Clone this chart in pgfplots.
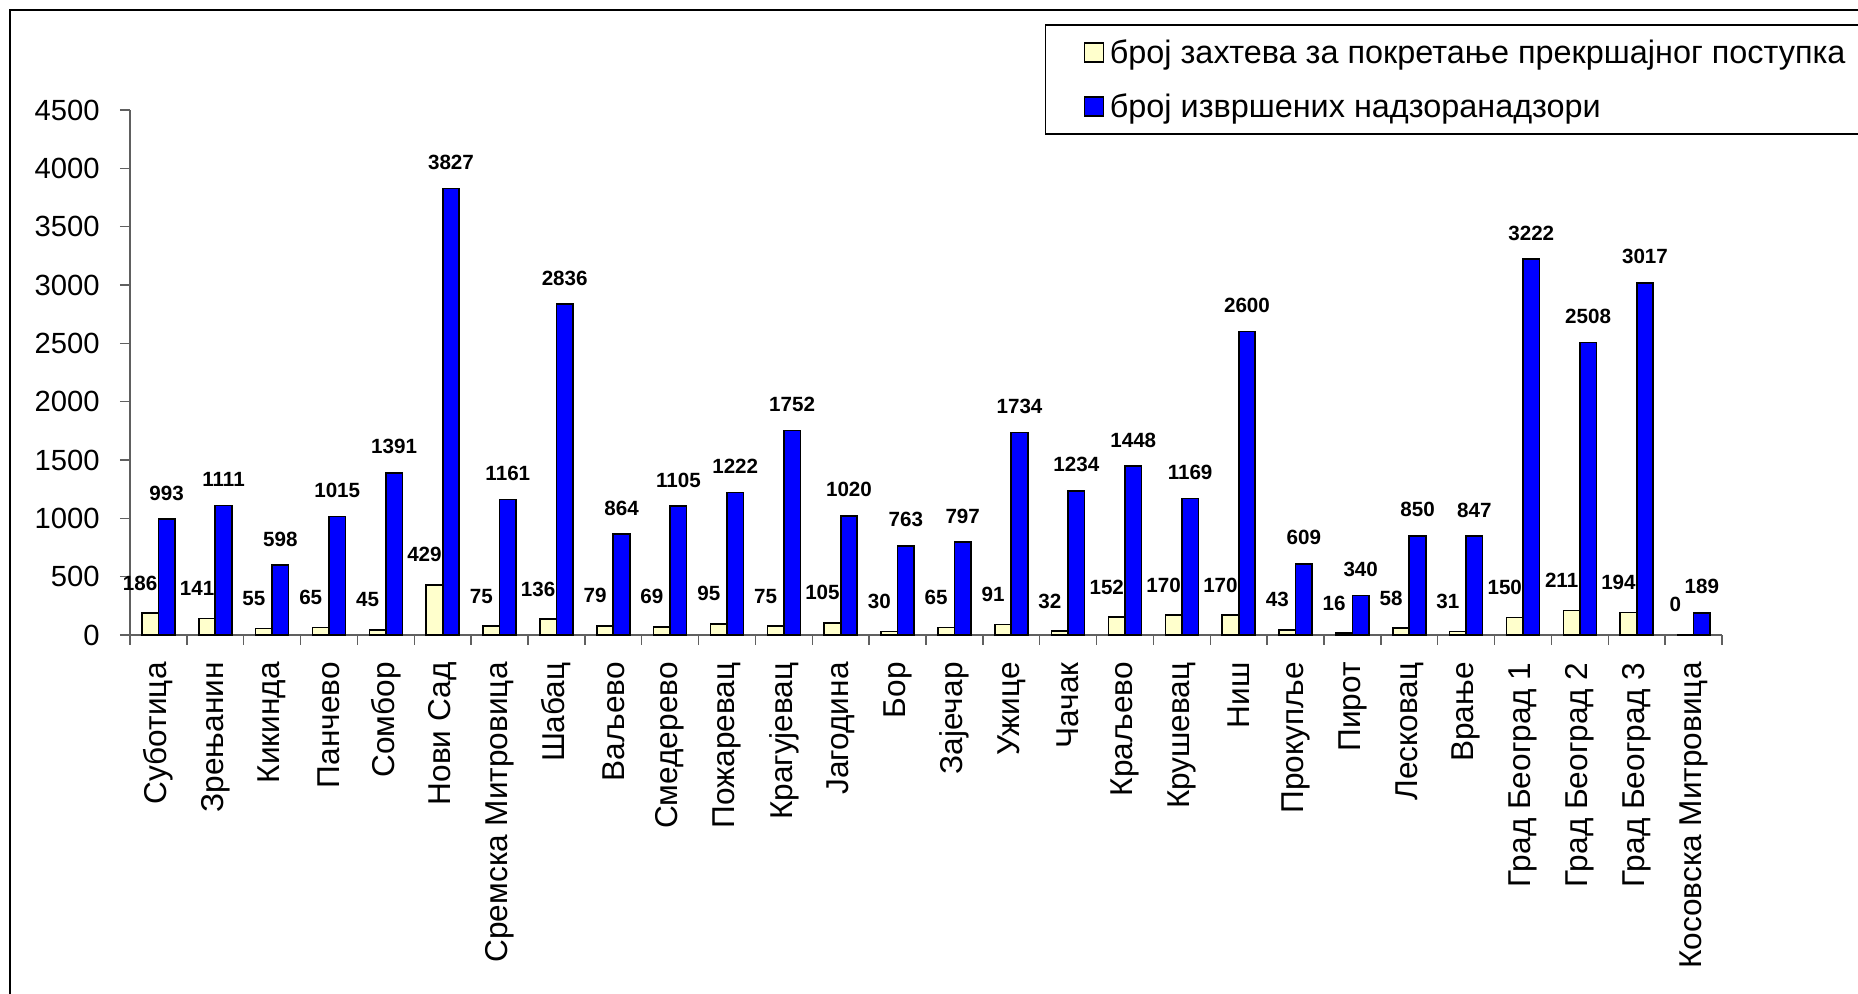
\documentclass[border=0pt]{standalone}
\usepackage{fontspec}
\setmainfont{Liberation Sans}
\usepackage{pgfplots}
\usepackage{pgfplotstable}
\pgfplotsset{compat=1.18}

\definecolor{barcream}{HTML}{FFFFCC}
\definecolor{barblue}{HTML}{0000FF}
\definecolor{axisgray}{HTML}{606060}

\newcommand\tickfont{\fontsize{14.6}{16}\selectfont}
\newcommand\catfont{\fontsize{15.8}{17}\selectfont}
\newcommand\lblfont{\fontsize{10.3}{11}\selectfont\bfseries}
\newcommand\legfont{\fontsize{16.2}{18}\selectfont}

% idx: position of the district, zahtevi: requests, nadzori: inspections
\pgfplotstableread{
idx zahtevi nadzori
0  186  993
1  141  1111
2  55   598
3  65   1015
4  45   1391
5  429  3827
6  75   1161
7  136  2836
8  79   864
9  69   1105
10 95   1222
11 75   1752
12 105  1020
13 30   763
14 65   797
15 91   1734
16 32   1234
17 152  1448
18 170  1169
19 170  2600
20 43   609
21 16   340
22 58   850
23 31   847
24 150  3222
25 211  2508
26 194  3017
27 0    189
}\podaci

\begin{document}
\begin{tikzpicture}
\begin{axis}[
    at={(0pt,0pt)}, anchor=south west,
    scale only axis,
    width=796pt, height=262.5pt,
    xmin=-0.5, xmax=27.5,
    ymin=0, ymax=4500,
    axis x line*=bottom,
    axis y line*=left,
    axis line style={axisgray, line width=0.7pt},
    tick style={axisgray, line width=0.7pt},
    tick align=outside,
    major tick length=5pt,
    ytick={0,500,...,4500},
    yticklabel style={font=\tickfont, inner sep=0pt},
    yticklabel shift=10pt,
    xtick={-0.5,0.5,...,27.5},
    xticklabels={},
    extra x ticks={0,1,...,27},
    extra x tick labels={Суботица,Зрењанин,Кикинда,Панчево,Сомбор,Нови Сад,Сремска Митровица,Шабац,Ваљево,Смедерево,Пожаревац,Крагујевац,Јагодина,Бор,Зајечар,Ужице,Чачак,Краљево,Крушевац,Ниш,Прокупље,Пирот,Лесковац,Врање,Град Београд 1,Град Београд 2,Град Београд 3,Косовска Митровица},
    extra x tick style={major tick length=0pt},
    xticklabel style={font=\catfont, rotate=90, anchor=east, inner sep=0pt},
    xticklabel shift=13.5pt,
    scaled y ticks=false,
    /pgf/number format/1000 sep={},
    /pgf/number format/assume math mode=true,
    ybar=0pt,
    bar width=8.25pt,
    clip=false,
    every axis plot post/.append style={
        legend image code/.code={\draw[##1, line width=0.6pt] (0pt,-4.75pt) rectangle (9.5pt,4.75pt);}
    },
    legend cell align=left,
    legend style={
        at={(0.5748,1.163)}, anchor=north west,
        draw=black, line width=0.6pt,
        inner xsep=19pt, inner ysep=7pt,
        row sep=13.5pt, column sep=3pt,
        font=\legfont,
        nodes={inner sep=0pt, text height=12.3pt, text depth=1.2pt},
    },
]
\addplot[fill=barcream, draw=black, line width=0.8pt,
    nodes near coords,
    every node near coord/.append style={font=\lblfont, inner sep=0pt, anchor=south, yshift=11pt, xshift=-5pt}]
    table[x=idx, y=zahtevi] {\podaci};
\addplot[fill=barblue, draw=black, line width=0.8pt,
    nodes near coords,
    every node near coord/.append style={font=\lblfont, inner sep=0pt, anchor=south, yshift=9pt}]
    table[x=idx, y=nadzori] {\podaci};
\legend{број захтева за покретање прекршајног поступка, број извршених надзоранадзори}
\end{axis}
\draw[line width=0.75pt] (-60pt,-200pt) -- (-60pt,312.5pt) -- (900pt,312.5pt);
\pgfresetboundingbox
\useasboundingbox (-65pt,-179.5pt) rectangle (864pt,317.5pt);
\end{tikzpicture}
\end{document}
